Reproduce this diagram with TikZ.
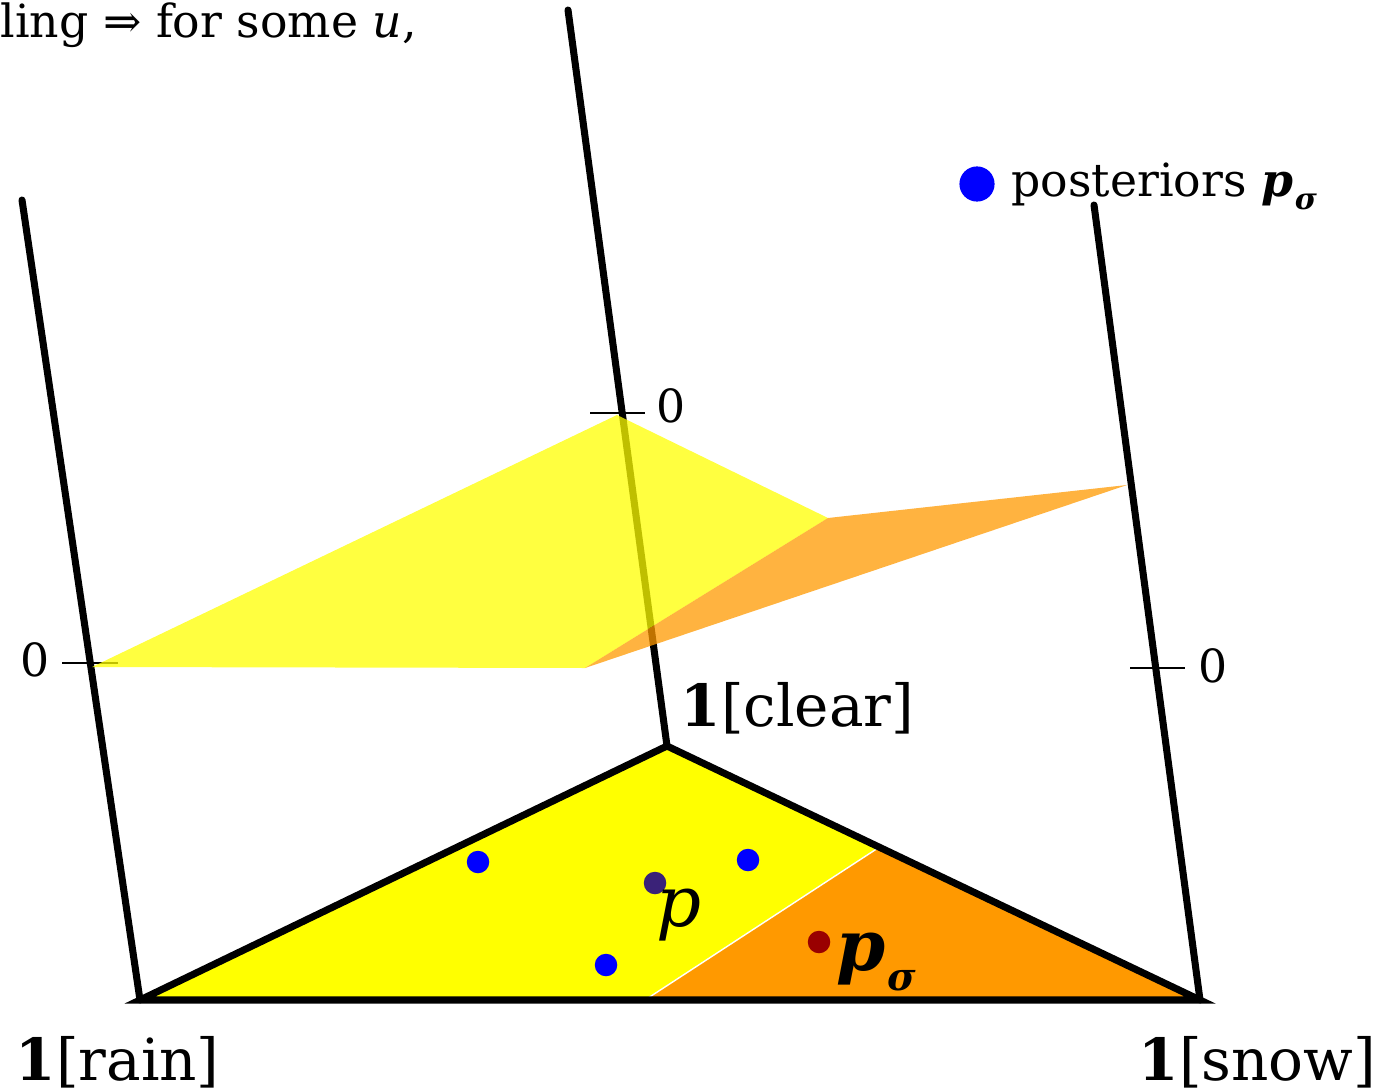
\documentclass[tikz,border=0pt]{standalone}
\usepackage{fontspec}
\setmainfont{DejaVu Serif}
\usetikzlibrary{positioning}
\definecolor{Plane}{HTML}{FFFF00}
\definecolor{Region}{HTML}{FF9900}
\definecolor{PostBlue}{HTML}{0000FF}
\definecolor{Prior}{HTML}{3A2278}
\definecolor{Target}{HTML}{990000}

\begin{document}
\begin{tikzpicture}[x=0.01cm,y=-0.01cm,
    axis/.style={line width=2pt,line cap=round},
    tick/.style={line width=0.5pt},
    vlabel/.style={font=\fontsize{16.5}{18}\selectfont,inner sep=0pt},
    zlabel/.style={font=\fontsize{13}{15}\selectfont,inner sep=0pt},
    dot/.style={circle,inner sep=0pt,minimum size=6.4pt}]
    \useasboundingbox (0,0) rectangle (1382,1091);
    % vertices of the simplex and tops of the axes
    \coordinate (rain) at (140,1000);
    \coordinate (clear) at (667,746);
    \coordinate (snow) at (1200,1000);
    \coordinate (rainTop) at (22,200);
    \coordinate (clearTop) at (568,10);
    \coordinate (snowTop) at (1094,205);
    \coordinate (cut) at (645,1000);
    \coordinate (cutEdge) at (878,848);
    % regions on the simplex
    \fill[Plane] (rain) -- (clear) -- (cutEdge) -- (cut) -- cycle;
    \fill[Region] (cut) -- (cutEdge) -- (snow) -- cycle;
    \draw[white,line width=0.4pt] (cut) -- (cutEdge);
    % vertical axes
    \draw[axis] (rain) -- (rainTop);
    \draw[axis] (clear) -- (clearTop);
    \draw[axis] (snow) -- (snowTop);
    \draw[tick] (62,663) -- (118,663);
    \draw[tick] (590,413) -- (645,413);
    \draw[tick] (1130,668) -- (1185,668);
    \node[zlabel] (zRain) at (35,660) {0};
    \node[zlabel] (zClear) at (671,406) {0};
    \node[zlabel] (zSnow) at (1213,666) {0};
    % utility planes
    \fill[Plane,opacity=0.75] (92,667) -- (617,415) -- (828,518) -- (585,668) -- cycle;
    \fill[Region,opacity=0.75] (585,668) -- (828,518) -- (1127,485) -- cycle;
    % simplex outline
    \draw[axis,line join=miter] (rain) -- (clear) -- (snow) -- cycle;
    % points
    \node[dot,fill=PostBlue] (post1) at (478,862) {};
    \node[dot,fill=PostBlue] (post2) at (748,860) {};
    \node[dot,fill=PostBlue] (post3) at (606,965) {};
    \node[dot,fill=Prior] (prior) at (655,883) {};
    \node[dot,fill=Target] (target) at (819,942) {};
    \node[vlabel,font=\fontsize{20}{22}\selectfont] (pLab) at (679,915) {\textit{p}};
    \node[vlabel,font=\fontsize{20}{22}\selectfont,anchor=west] (tLab) at (836,962) {\textbf{\textit{p}}\kern0.5pt\raisebox{-0.55ex}{\fontsize{11}{13}\selectfont\textbf{\textit{σ}}}};
    % vertex labels
    \node[vlabel,anchor=base west] (lRain) at (15,1080) {\textbf{1}[rain]};
    \node[vlabel,anchor=base west] (lClear) at (680,726) {\textbf{1}[clear]};
    \node[vlabel,anchor=base west] (lSnow) at (1138,1080) {\textbf{1}[snow]};
    % legend and cut-off heading
    \node[dot,fill=PostBlue,minimum size=10pt] (legDot) at (977,184) {};
    \node[zlabel,anchor=base west] (legText) at (1011,196) {posteriors \textbf{\textit{p}}\kern0.5pt\raisebox{-0.55ex}{\fontsize{8.5}{10}\selectfont\textbf{\textit{σ}}}};
    \node[zlabel,anchor=base west] (head) at (0,38) {ling ⇒ for some \textit{u},};
\end{tikzpicture}
\end{document}
